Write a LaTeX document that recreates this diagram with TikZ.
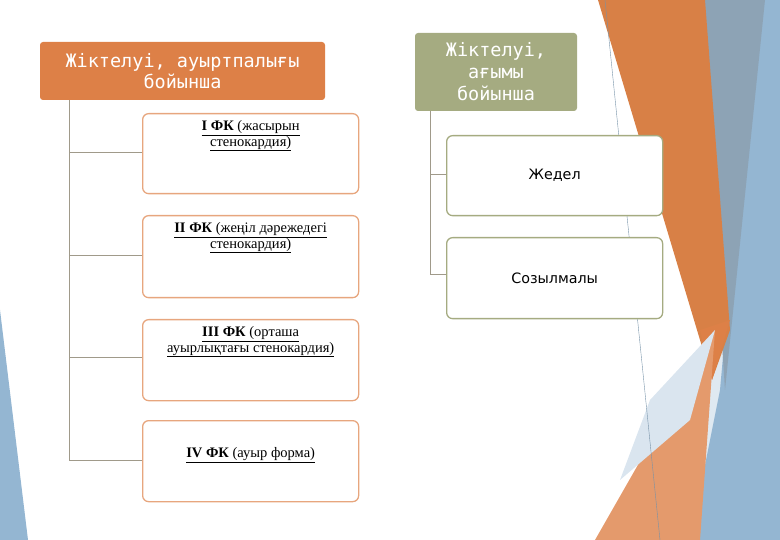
\documentclass[tikz,border=0pt]{standalone}
\usepackage{fontspec}
\setmainfont{Liberation Serif}
\newfontfamily\monof{DejaVu Sans Mono}
\newfontfamily\sansf{DejaVu Sans}
\definecolor{orng}{HTML}{DD8047}
\definecolor{olv}{HTML}{A5AB81}
\definecolor{lblue}{HTML}{94B6D2}
\definecolor{gline}{HTML}{A09A8A}
\begin{document}
\begin{tikzpicture}[x=1pt,y=-1pt,
  hdr/.style={draw=none,rounded corners=3pt,text=white,align=center},
  lbox/.style={draw=orng!70,line width=1.3pt,fill=white,rounded corners=6pt,minimum width=216pt,anchor=north west},
  rbox/.style={draw=olv,line width=1.3pt,fill=white,rounded corners=6pt,minimum width=216pt,anchor=north west,font=\sansf\fontsize{14.3}{16}\selectfont},
  ltext/.style={label={[anchor=north,yshift=-4pt,align=center,font=\fontsize{14.5}{15.5}\selectfont]north:#1}},
  ltextlow/.style={label={[anchor=north,yshift=-24pt,align=center,font=\fontsize{14.5}{15.5}\selectfont]north:#1}},
  conn/.style={draw=gline,line width=1pt}]
\useasboundingbox (0,0) rectangle (780,540);
% background decoration
\fill[lblue!30] (690,0) -- (780,0) -- (780,540) -- (600,540) -- (715,330) -- cycle;
\fill[lblue] (755,0) -- (780,0) -- (780,540) -- (690,540) -- (720,390) -- cycle;
\fill[gray!35!lblue] (700,0) -- (765,0) -- (725,390) -- cycle;
\fill[orng!85!brown] (598,0) -- (705,0) -- (730,330) -- (712,380) -- cycle;
\fill[orng] (700,330) -- (730,320) -- (712,380) -- cycle;
\fill[orng!80] (715,330) -- (700,540) -- (595,540) -- cycle;
\fill[lblue!35] (715,330) -- (650,400) -- (620,480) -- (690,420) -- cycle;
\draw[lblue!80!black,line width=0.4pt] (605,0) -- (660,540);
\fill[lblue] (0,310) -- (28,540) -- (0,540) -- cycle;
% headers
\node[hdr,fill=orng,minimum width=285pt,minimum height=58pt,font=\monof\fontsize{18.5}{21}\selectfont] (h1) at (182.5,71) {Жіктелуі, ауыртпалығы\\бойынша};
\node[hdr,fill=olv,minimum width=162pt,minimum height=78pt,font=\monof\fontsize{18.5}{22}\selectfont] (h2) at (496,72) {Жіктелуі,\\ағымы\\бойынша};
% left boxes
\node[lbox,minimum height=80pt,ltext={\underline{\textbf{I ФК} (жасырын}\\\underline{стенокардия)}}] (a1) at (142,113) {};
\node[lbox,minimum height=82pt,ltext={\underline{\textbf{II ФК} (жеңіл дәрежедегі}\\\underline{стенокардия)}}] (a2) at (142,215) {};
\node[lbox,minimum height=81pt,ltext={\underline{\textbf{III ФК} (орташа}\\\underline{ауырлықтағы стенокардия)}}] (a3) at (142,319) {};
\node[lbox,minimum height=81pt,ltextlow={\underline{\textbf{IV ФК} (ауыр форма)}}] (a4) at (142,420) {};
% right boxes
\node[rbox,minimum height=80pt] (b1) at (446,135) {Жедел};
\node[rbox,minimum height=81pt] (b2) at (446,237) {Созылмалы};
% connectors
\coordinate (lv) at (69,100);
\draw[conn] (h1.south -| lv) -- (69,460) -- (a4.west |- 0,460);
\draw[conn] (69,153) -- (a1.west |- 0,153);
\draw[conn] (69,256) -- (a2.west |- 0,256);
\draw[conn] (69,358) -- (a3.west |- 0,358);
\draw[conn] (430,111) -- (430,275) -- (b2.west |- 0,275);
\draw[conn] (430,175) -- (b1.west |- 0,175);
\end{tikzpicture}
\end{document}
